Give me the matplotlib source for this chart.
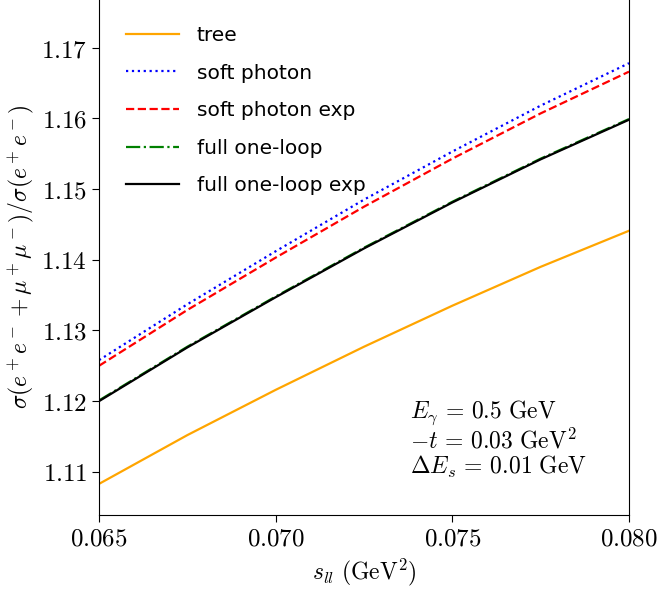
import numpy as np
import matplotlib
matplotlib.use("Agg")
import matplotlib.pyplot as plt
from matplotlib.ticker import FuncFormatter

plt.rcParams['mathtext.fontset'] = 'cm'

# s_ll values (GeV^2)
s_ll = [0.065, 0.0675, 0.070, 0.0725, 0.075, 0.0775, 0.080]

# cross-section ratios
tree = [1.1083, 1.1152, 1.1216, 1.1277, 1.1335, 1.1390, 1.1441]
soft = [1.1258, 1.1337, 1.1412, 1.1485, 1.1553, 1.1618, 1.1678]
soft_exp = [1.1250, 1.1329, 1.1403, 1.1475, 1.1543, 1.1607, 1.1666]
full = [1.1201, 1.1277, 1.1348, 1.1417, 1.1482, 1.1543, 1.1599]
full_exp = [1.1200, 1.1276, 1.1347, 1.1416, 1.1481, 1.1542, 1.1598]

labels = ['tree', 'soft photon', 'soft photon exp', 'full one-loop', 'full one-loop exp']
xticks = [0.065, 0.070, 0.075, 0.080]
yticks = [1.11, 1.12, 1.13, 1.14, 1.15, 1.16, 1.17]

fig = plt.figure(figsize=(6.57, 5.9), dpi=100)
ax = fig.add_axes([0.1507, 0.1271, 0.8067, 0.8749])

ax.plot(s_ll, tree, color='orange', ls='-', lw=1.6, label=labels[0])
ax.plot(s_ll, soft, color='blue', ls=':', lw=1.6, label=labels[1])
ax.plot(s_ll, soft_exp, color='red', ls='--', lw=1.6, label=labels[2])
ax.plot(s_ll, full, color='green', ls='-.', lw=1.6, label=labels[3])
ax.plot(s_ll, full_exp, color='black', ls='-', lw=1.6, label=labels[4])

ax.set_xlim(0.065, 0.080)
ax.set_ylim(1.1039, 1.1769)
ax.set_xticks(xticks)
ax.set_yticks(yticks)
ax.xaxis.set_major_formatter(FuncFormatter(lambda v, p: '$%.3f$' % v))
ax.yaxis.set_major_formatter(FuncFormatter(lambda v, p: '$%.2f$' % v))
ax.tick_params(labelsize=18, length=5)

ax.set_xlabel(r'$s_{ll}\ (\mathrm{GeV}^2)$', fontsize=17)
ax.set_ylabel(r'$\sigma(e^+e^- + \mu^+\mu^-)/\sigma(e^+e^-)$', fontsize=17)

ax.text(0.587, 0.225,
        "$E_\\gamma\\,=\\,0.5\\ \\mathrm{GeV}$\n$-t\\,=\\,0.03\\ \\mathrm{GeV}^2$\n$\\Delta E_s\\,=\\,0.01\\ \\mathrm{GeV}$",
        transform=ax.transAxes, ha='left', va='top', fontsize=17, linespacing=1.05)

ax.legend(loc='upper left', frameon=False, fontsize=14.5, labelspacing=0.92,
          handlelength=2.6, handletextpad=0.9, borderaxespad=0.95)

fig.savefig('out.png', dpi=100)
